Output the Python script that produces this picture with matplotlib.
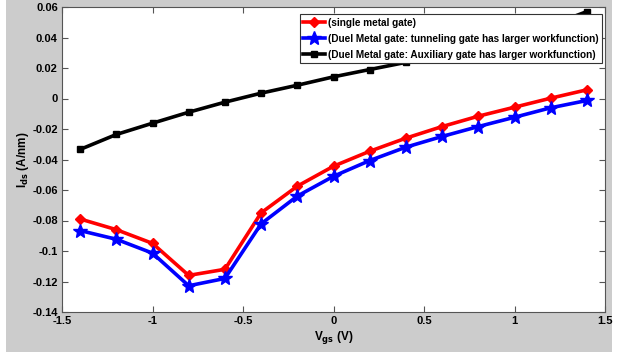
import matplotlib.pyplot as plt
import matplotlib.patches as mpatches

# Gate voltage sweep (V)
vgs = [-1.4, -1.2, -1.0, -0.8, -0.6, -0.4, -0.2, 0.0, 0.2, 0.4, 0.6, 0.8, 1.0, 1.2, 1.4]

# Drain current (A/nm) for each gate configuration
ids_single = [-0.079, -0.086, -0.095, -0.116, -0.112, -0.075, -0.0575, -0.0444, -0.0346,
              -0.026, -0.0184, -0.0116, -0.0057, 0.0002, 0.0057]
ids_tunnel = [-0.0866, -0.0923, -0.1014, -0.1228, -0.118, -0.0822, -0.064, -0.051, -0.0407,
              -0.0319, -0.0249, -0.0184, -0.0123, -0.0061, -0.0013]
ids_aux = [-0.0334, -0.0236, -0.0162, -0.009, -0.0024, 0.0035, 0.0087, 0.0142, 0.019,
           0.0237, 0.029, 0.0345, 0.041, 0.048, 0.057]

labels = ['(single metal gate)',
          '(Duel Metal gate: tunneling gate has larger workfunction)',
          '(Duel Metal gate: Auxiliary gate has larger workfunction)']

plt.rcParams['font.family'] = ['Liberation Sans', 'DejaVu Sans']
plt.rcParams['font.weight'] = 'bold'

fig = plt.figure(figsize=(6.17, 3.55), dpi=100, facecolor='white')
# gray MATLAB-style figure background
fig.patches.append(mpatches.Rectangle((6 / 617, 3 / 355), 606 / 617, 352 / 355,
                                      transform=fig.transFigure, facecolor='#cccccc',
                                      edgecolor='none', zorder=-10))
ax = fig.add_axes([62 / 617, 43 / 355, 543 / 617, 305 / 355])

ax.plot(vgs, ids_single, color='red', lw=2.6, marker='D', ms=5, label=labels[0])
ax.plot(vgs, ids_tunnel, color='blue', lw=2.6, marker='*', ms=10, label=labels[1])
ax.plot(vgs, ids_aux, color='black', lw=2.6, marker='s', ms=5, label=labels[2])

ax.set_xlim(-1.5, 1.5)
ax.set_ylim(-0.14, 0.06)
ax.set_xticks([-1.5, -1, -0.5, 0, 0.5, 1, 1.5])
ax.set_xticklabels(['-1.5', '-1', '-0.5', '0', '0.5', '1', '1.5'])
ax.set_yticks([-0.14, -0.12, -0.1, -0.08, -0.06, -0.04, -0.02, 0, 0.02, 0.04, 0.06])
ax.set_yticklabels(['-0.14', '-0.12', '-0.1', '-0.08', '-0.06', '-0.04', '-0.02',
                    '0', '0.02', '0.04', '0.06'])
ax.tick_params(direction='in', length=4, labelsize=8, top=True, right=True,
               color='#555555', pad=3)
for s in ax.spines.values():
    s.set_color('#555555')

ax.set_xlabel('V$_{\\mathbf{gs}}$ (V)', fontsize=8.5, fontweight='bold', labelpad=2)
ax.set_ylabel('I$_{\\mathbf{ds}}$ (A/nm)', fontsize=8.5, fontweight='bold', labelpad=1)

leg = ax.legend(loc='upper right', bbox_to_anchor=(0.9945, 0.977), fontsize=7.2,
                frameon=True, fancybox=False, framealpha=1, edgecolor='#333333',
                borderpad=0.35, labelspacing=0.6, handlelength=2.2,
                handletextpad=0.25, borderaxespad=0)
leg.get_frame().set_linewidth(0.8)
for t in leg.get_texts():
    t.set_fontweight('bold')

fig.savefig('out.png', dpi=100, facecolor=fig.get_facecolor())
